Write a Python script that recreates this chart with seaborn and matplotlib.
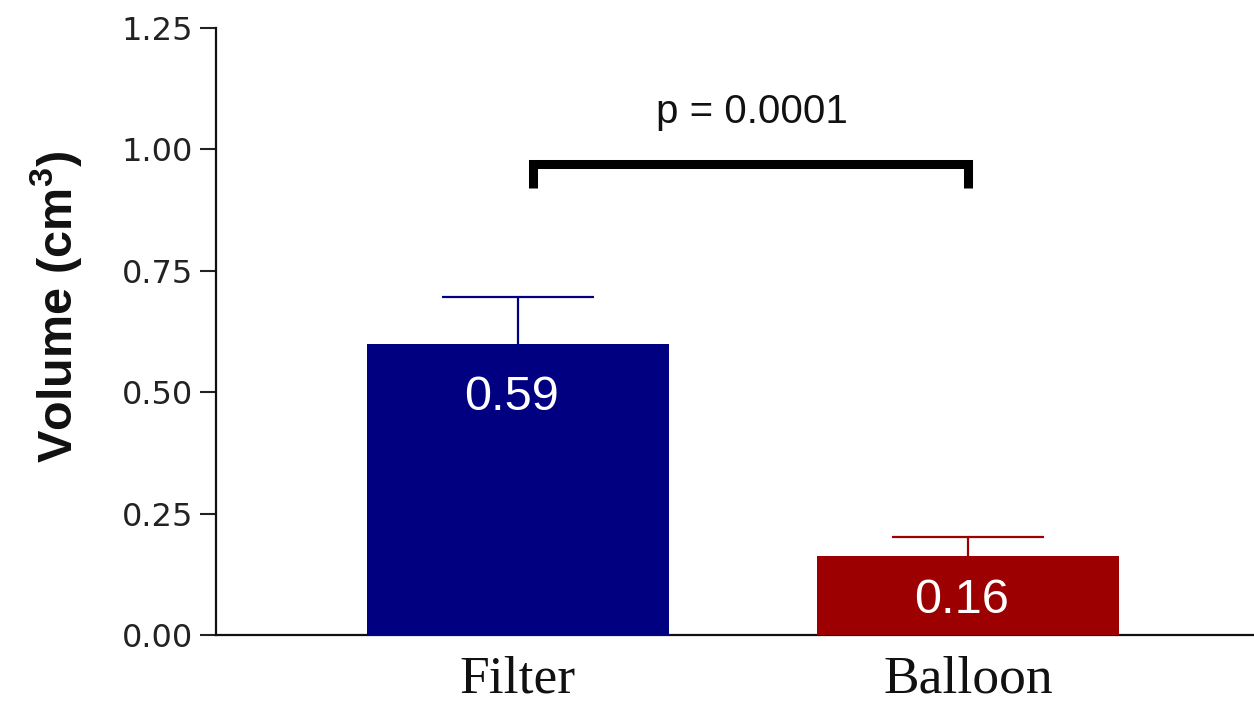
import matplotlib
matplotlib.use("Agg")
import matplotlib.pyplot as plt
import seaborn as sns
import pandas as pd

# ---- data ----
categories = ["Filter", "Balloon"]
means = [0.599, 0.163]
sem = [0.097, 0.039]
value_labels = ["0.59", "0.16"]
bar_colors = ["#000080", "#9c0000"]
y_ticks = [0.00, 0.25, 0.50, 0.75, 1.00, 1.25]
p_text = "p = 0.0001"

sns.set_theme(style="white")
plt.rcParams["font.family"] = ["Liberation Sans", "DejaVu Sans"]
plt.rcParams["mathtext.fontset"] = "custom"
plt.rcParams["mathtext.rm"] = "Liberation Sans"
plt.rcParams["mathtext.bf"] = "Liberation Sans:bold"

fig = plt.figure(figsize=(12.54, 7.03), dpi=100)
ax = fig.add_axes([0.1722, 0.0967, 0.8278, 0.8634])

df = pd.DataFrame({"cat": categories, "val": means})
sns.barplot(data=df, x="cat", y="val", hue="cat", palette=bar_colors,
            width=0.671, legend=False, errorbar=None, ax=ax,
            saturation=1, linewidth=0, zorder=3)

# upper-only error bars
for i, (m, e, c) in enumerate(zip(means, sem, bar_colors)):
    ax.errorbar(i, m, yerr=[[0], [e]], color=c, elinewidth=1.6,
                capsize=0, zorder=2)
    ax.plot([i - 0.168, i + 0.168], [m + e, m + e], color=c, lw=1.6,
            solid_capstyle="butt", zorder=2)

# value labels inside bars
label_y = [0.4634, 0.0453]
for i, (t, yy) in enumerate(zip(value_labels, label_y)):
    ax.text(i - 0.015, yy, t, color="white", fontsize=35, ha="center",
            va="baseline", zorder=4)

# significance bracket
ax.plot([0.034, 0.034, 1.001, 1.001], [0.9205, 0.971, 0.971, 0.9205],
        color="black", lw=6.5, solid_joinstyle="miter",
        solid_capstyle="butt", clip_on=False, zorder=5)
ax.text(0.521, 1.054, p_text, fontsize=29, ha="center", va="baseline",
        color="#111111")

ax.set_ylim(0, 1.25)
ax.set_xlim(-0.671, 1.6356)
ax.set_yticks(y_ticks)
ax.set_yticklabels([f"{v:.2f}" for v in y_ticks], fontsize=23,
                   family=["DejaVu Sans"], color="#222222")
ax.set_xticks(range(len(categories)))
ax.set_xticklabels(categories, fontsize=38.5, family=["Liberation Serif"],
                   color="#111111")
ax.tick_params(axis="y", direction="out", length=11.5, width=1.5,
               pad=5, colors="#222222", left=True)
ax.tick_params(axis="y", labelcolor="#222222")
ax.tick_params(axis="x", length=0, pad=14.5)
ax.set_xlabel("")
ax.set_ylabel("")

for s in ["top", "right"]:
    ax.spines[s].set_visible(False)
for s in ["left", "bottom"]:
    ax.spines[s].set_color("#111111")
    ax.spines[s].set_linewidth(1.6)

fig.text(0.045, 1 - 307 / 703, r"Volume (cm$^{\mathbf{3}}$)",
         rotation=90, fontsize=35, fontweight="bold", ha="center",
         va="center", color="#111111")

fig.savefig("out.png", dpi=100, facecolor="white")
